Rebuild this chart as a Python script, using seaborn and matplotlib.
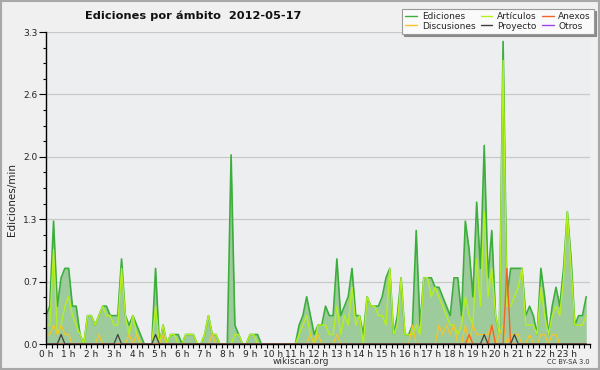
import numpy as np
import pandas as pd
import seaborn as sns
import matplotlib.pyplot as plt
from matplotlib.patches import Rectangle
from matplotlib.ticker import FixedLocator, MultipleLocator

# Ediciones por minuto, intervalos de 10 min (12 valores = 2 horas por fila)
ediciones = [
    0.3, 0.4, 1.3, 0.4, 0.7, 0.8, 0.8, 0.4, 0.4, 0.1, 0.0, 0.3,
    0.3, 0.2, 0.3, 0.4, 0.4, 0.3, 0.3, 0.3, 0.9, 0.3, 0.2, 0.3,
    0.2, 0.1, 0.0, 0.0, 0.0, 0.8, 0.0, 0.2, 0.0, 0.1, 0.1, 0.1,
    0.0, 0.1, 0.1, 0.1, 0.0, 0.0, 0.1, 0.3, 0.1, 0.1, 0.0, 0.0,
    0.0, 2.0, 0.2, 0.1, 0.0, 0.0, 0.1, 0.1, 0.1, 0.0, 0.0, 0.0,
    0.0, 0.0, 0.0, 0.0, 0.0, 0.0, 0.0, 0.2, 0.3, 0.5, 0.3, 0.1,
    0.2, 0.2, 0.4, 0.3, 0.3, 0.9, 0.3, 0.4, 0.5, 0.8, 0.3, 0.3,
    0.1, 0.5, 0.4, 0.4, 0.4, 0.5, 0.7, 0.8, 0.1, 0.3, 0.7, 0.1,
    0.1, 0.2, 1.2, 0.2, 0.7, 0.7, 0.7, 0.6, 0.6, 0.5, 0.4, 0.3,
    0.7, 0.7, 0.3, 1.3, 1.0, 0.5, 1.5, 0.8, 2.1, 0.7, 1.2, 0.3,
    0.1, 3.2, 0.5, 0.8, 0.8, 0.8, 0.8, 0.3, 0.4, 0.3, 0.1, 0.8,
    0.5, 0.1, 0.4, 0.6, 0.4, 0.8, 1.4, 0.9, 0.2, 0.3, 0.3, 0.5,
]
articulos = [
    0.2, 0.2, 1.0, 0.1, 0.2, 0.4, 0.5, 0.3, 0.2, 0.1, 0.0, 0.3,
    0.3, 0.2, 0.3, 0.4, 0.3, 0.3, 0.2, 0.2, 0.8, 0.3, 0.1, 0.3,
    0.1, 0.0, 0.0, 0.0, 0.0, 0.4, 0.0, 0.2, 0.0, 0.1, 0.1, 0.0,
    0.0, 0.1, 0.1, 0.1, 0.0, 0.0, 0.1, 0.3, 0.1, 0.1, 0.0, 0.0,
    0.0, 0.0, 0.1, 0.1, 0.0, 0.0, 0.1, 0.1, 0.0, 0.0, 0.0, 0.0,
    0.0, 0.0, 0.0, 0.0, 0.0, 0.0, 0.0, 0.1, 0.2, 0.3, 0.1, 0.0,
    0.2, 0.2, 0.2, 0.1, 0.1, 0.4, 0.1, 0.3, 0.2, 0.6, 0.2, 0.3,
    0.0, 0.5, 0.4, 0.4, 0.3, 0.3, 0.2, 0.8, 0.1, 0.2, 0.7, 0.1,
    0.1, 0.1, 0.2, 0.1, 0.7, 0.7, 0.5, 0.6, 0.5, 0.4, 0.3, 0.2,
    0.2, 0.1, 0.2, 0.5, 0.3, 0.2, 0.9, 0.4, 1.4, 0.5, 0.8, 0.3,
    0.1, 3.0, 0.4, 0.4, 0.5, 0.6, 0.8, 0.2, 0.2, 0.2, 0.1, 0.6,
    0.3, 0.1, 0.3, 0.4, 0.3, 0.7, 1.4, 0.8, 0.2, 0.2, 0.2, 0.3,
]
discusiones = [
    0.1, 0.1, 0.2, 0.1, 0.2, 0.1, 0.1, 0.0, 0.0, 0.0, 0.0, 0.0,
    0.0, 0.0, 0.1, 0.0, 0.0, 0.0, 0.0, 0.0, 0.0, 0.0, 0.1, 0.0,
    0.1, 0.0, 0.0, 0.0, 0.0, 0.0, 0.0, 0.1, 0.0, 0.0, 0.0, 0.0,
    0.0, 0.0, 0.0, 0.0, 0.0, 0.0, 0.0, 0.0, 0.1, 0.0, 0.0, 0.0,
    0.0, 0.0, 0.0, 0.0, 0.0, 0.0, 0.0, 0.0, 0.0, 0.0, 0.0, 0.0,
    0.0, 0.0, 0.0, 0.0, 0.0, 0.0, 0.0, 0.0, 0.0, 0.0, 0.1, 0.0,
    0.1, 0.0, 0.0, 0.0, 0.0, 0.1, 0.0, 0.0, 0.0, 0.0, 0.0, 0.0,
    0.0, 0.0, 0.0, 0.0, 0.0, 0.0, 0.0, 0.0, 0.0, 0.0, 0.0, 0.0,
    0.0, 0.2, 0.0, 0.0, 0.0, 0.0, 0.0, 0.0, 0.2, 0.1, 0.2, 0.1,
    0.2, 0.0, 0.0, 0.2, 0.0, 0.2, 0.1, 0.1, 0.1, 0.1, 0.2, 0.0,
    0.1, 0.2, 0.0, 0.1, 0.1, 0.1, 0.0, 0.0, 0.1, 0.0, 0.0, 0.1,
    0.1, 0.0, 0.1, 0.1, 0.0, 0.0, 0.0, 0.0, 0.0, 0.0, 0.0, 0.0,
]
anexos = [
    0.0, 0.0, 0.0, 0.0, 0.0, 0.0, 0.0, 0.0, 0.0, 0.0, 0.0, 0.0,
    0.0, 0.0, 0.0, 0.0, 0.0, 0.0, 0.0, 0.0, 0.0, 0.0, 0.0, 0.0,
    0.0, 0.0, 0.0, 0.0, 0.0, 0.0, 0.0, 0.0, 0.0, 0.0, 0.0, 0.0,
    0.0, 0.0, 0.0, 0.0, 0.0, 0.0, 0.0, 0.0, 0.0, 0.0, 0.0, 0.0,
    0.0, 0.0, 0.0, 0.0, 0.0, 0.0, 0.0, 0.0, 0.0, 0.0, 0.0, 0.0,
    0.0, 0.0, 0.0, 0.0, 0.0, 0.0, 0.0, 0.0, 0.0, 0.0, 0.0, 0.0,
    0.0, 0.0, 0.0, 0.0, 0.0, 0.0, 0.0, 0.0, 0.0, 0.0, 0.0, 0.0,
    0.0, 0.0, 0.0, 0.0, 0.0, 0.0, 0.0, 0.0, 0.0, 0.0, 0.0, 0.0,
    0.0, 0.0, 0.0, 0.0, 0.0, 0.0, 0.0, 0.0, 0.0, 0.0, 0.0, 0.0,
    0.0, 0.0, 0.0, 0.0, 0.1, 0.0, 0.0, 0.0, 0.0, 0.0, 0.2, 0.0,
    0.0, 0.0, 0.8, 0.0, 0.0, 0.0, 0.0, 0.0, 0.0, 0.0, 0.0, 0.0,
    0.0, 0.0, 0.0, 0.0, 0.0, 0.0, 0.0, 0.0, 0.0, 0.0, 0.0, 0.0,
]
proyecto = [
    0.0, 0.0, 0.0, 0.0, 0.1, 0.0, 0.0, 0.0, 0.0, 0.0, 0.0, 0.0,
    0.0, 0.0, 0.0, 0.0, 0.0, 0.0, 0.0, 0.1, 0.0, 0.0, 0.0, 0.0,
    0.0, 0.0, 0.0, 0.0, 0.0, 0.1, 0.0, 0.0, 0.0, 0.0, 0.0, 0.0,
    0.0, 0.0, 0.0, 0.0, 0.0, 0.0, 0.0, 0.0, 0.0, 0.0, 0.0, 0.0,
    0.0, 0.0, 0.0, 0.0, 0.0, 0.0, 0.0, 0.0, 0.0, 0.0, 0.0, 0.0,
    0.0, 0.0, 0.0, 0.0, 0.0, 0.0, 0.0, 0.0, 0.0, 0.0, 0.0, 0.0,
    0.0, 0.0, 0.0, 0.0, 0.0, 0.0, 0.0, 0.0, 0.0, 0.0, 0.0, 0.0,
    0.0, 0.0, 0.0, 0.0, 0.0, 0.0, 0.0, 0.0, 0.0, 0.0, 0.0, 0.0,
    0.0, 0.0, 0.0, 0.0, 0.0, 0.0, 0.0, 0.0, 0.0, 0.0, 0.0, 0.0,
    0.0, 0.0, 0.0, 0.0, 0.0, 0.0, 0.0, 0.0, 0.1, 0.0, 0.0, 0.0,
    0.0, 0.0, 0.0, 0.0, 0.1, 0.0, 0.0, 0.0, 0.0, 0.0, 0.0, 0.0,
    0.0, 0.0, 0.0, 0.0, 0.0, 0.0, 0.0, 0.0, 0.0, 0.0, 0.0, 0.0,
]
otros = [
    0.0, 0.0, 0.0, 0.0, 0.0, 0.0, 0.0, 0.0, 0.0, 0.0, 0.0, 0.0,
    0.0, 0.0, 0.0, 0.0, 0.0, 0.0, 0.0, 0.0, 0.0, 0.0, 0.0, 0.0,
    0.0, 0.0, 0.0, 0.0, 0.0, 0.0, 0.0, 0.0, 0.0, 0.0, 0.0, 0.0,
    0.0, 0.0, 0.0, 0.0, 0.0, 0.0, 0.0, 0.0, 0.0, 0.0, 0.0, 0.0,
    0.0, 0.0, 0.0, 0.0, 0.0, 0.0, 0.0, 0.0, 0.0, 0.0, 0.0, 0.0,
    0.0, 0.0, 0.0, 0.0, 0.0, 0.0, 0.0, 0.0, 0.0, 0.0, 0.0, 0.0,
    0.0, 0.0, 0.0, 0.0, 0.0, 0.0, 0.0, 0.0, 0.0, 0.0, 0.0, 0.0,
    0.0, 0.0, 0.0, 0.0, 0.0, 0.0, 0.0, 0.0, 0.0, 0.0, 0.0, 0.0,
    0.0, 0.0, 0.0, 0.0, 0.0, 0.0, 0.0, 0.0, 0.0, 0.0, 0.0, 0.0,
    0.0, 0.0, 0.0, 0.0, 0.0, 0.0, 0.0, 0.0, 0.0, 0.0, 0.0, 0.0,
    0.0, 0.0, 0.0, 0.0, 0.0, 0.0, 0.0, 0.0, 0.0, 0.0, 0.0, 0.0,
    0.0, 0.0, 0.0, 0.0, 0.0, 0.0, 0.0, 0.0, 0.0, 0.0, 0.0, 0.0,
]

# Escala y etiquetas
y_ticks = [0.0, 0.66, 1.32, 1.98, 2.64, 3.3]
y_labels = ["0.0", "0.7", "1.3", "2.0", "2.6", "3.3"]
x_labels = [f"{h} h" for h in range(24)]

horas = np.arange(len(ediciones)) / 6.0
df = pd.DataFrame({
    "hora": horas,
    "Ediciones": ediciones,
    "Artículos": articulos,
    "Anexos": anexos,
    "Discusiones": discusiones,
    "Proyecto": proyecto,
    "Otros": otros,
})

colores = {
    "Ediciones": "#3cae3c",
    "Artículos": "#b4f01e",
    "Anexos": "#f0642a",
    "Discusiones": "#f5c526",
    "Proyecto": "#404040",
    "Otros": "#9b45ee",
}

sns.set_style("white", {"axes.facecolor": "#edeef0", "figure.facecolor": "#f0f0f0"})
plt.rcParams["font.family"] = ["DejaVu Sans"]

fig, ax = plt.subplots(figsize=(6, 3.7), dpi=100)
fig.subplots_adjust(left=46/600, right=590/600, bottom=1-344/370, top=1-32/370)

# Area of total edits
ax.fill_between(df["hora"], 0, df["Ediciones"], color="#9ecb9b", linewidth=0, zorder=1)

for col, lw in [("Ediciones", 1.2), ("Artículos", 1.0), ("Discusiones", 0.9),
                ("Anexos", 1.0), ("Proyecto", 0.9), ("Otros", 0.9)]:
    sns.lineplot(data=df, x="hora", y=col, ax=ax, color=colores[col],
                 linewidth=lw, label=col, legend=False, zorder=3)

ax.set_xlim(0, 24)
ax.set_ylim(0, 3.3)

ax.yaxis.set_major_locator(FixedLocator(y_ticks))
ax.set_yticklabels(y_labels)
ax.yaxis.set_minor_locator(MultipleLocator(0.165))
ax.xaxis.set_major_locator(FixedLocator(range(24)))
ax.set_xticklabels(x_labels)
ax.xaxis.set_minor_locator(MultipleLocator(0.25))

ax.grid(axis="y", which="major", color="#c9c9c9", linewidth=0.9)
ax.set_axisbelow(True)
for s in ["top", "right"]:
    ax.spines[s].set_visible(False)
for s in ["left", "bottom"]:
    ax.spines[s].set_color("black")
    ax.spines[s].set_linewidth(1.0)
    ax.spines[s].set_zorder(5)

ax.tick_params(axis="both", which="both", left=True, bottom=True)
ax.tick_params(axis="y", which="major", length=5, width=0.8, direction="out",
               labelsize=6.5, pad=1, colors="black", labelcolor="#222222")
ax.tick_params(axis="y", which="minor", length=2.5, width=0.8, direction="out",
               colors="black")
ax.tick_params(axis="x", which="both", length=3, width=0.8, direction="out",
               labelsize=6.5, pad=1, colors="black", labelcolor="#222222")

ax.set_xlabel("")
ax.set_ylabel("")
fig.text(12/600, 1-200/370, "Ediciones/min", rotation=90, fontsize=7.5,
         ha="center", va="center", color="#222222")

fig.text(85/600, 1-16/370, "Ediciones por ámbito  2012-05-17", fontsize=8.2,
         fontweight="bold", ha="left", va="center", color="#111111")

fig.text(301/600, 1-362/370, "wikiscan.org", fontsize=6.5, ha="center",
         va="center", color="#333333")
fig.text(590/600, 1-362/370, "CC BY-SA 3.0", fontsize=4.8, ha="right",
         va="center", color="#333333")

# Legend, column-wise order
handles, labels = ax.get_legend_handles_labels()
orden = ["Ediciones", "Discusiones", "Artículos", "Proyecto", "Anexos", "Otros"]
hmap = dict(zip(labels, handles))
leg = fig.legend([hmap[k] for k in orden], orden, ncol=3, loc="upper right",
                 bbox_to_anchor=(594/600, 1-9/370), fontsize=6.5, frameon=True,
                 fancybox=False, shadow={"ox": 1.5, "oy": -1.5, "color": "#8a8a8a", "alpha": 1.0},
                 handlelength=1.3, handletextpad=0.5,
                 columnspacing=0.6, labelspacing=0.05, borderpad=0.35,
                 borderaxespad=0)
leg.get_frame().set_facecolor("#fafafa")
leg.get_frame().set_edgecolor("#9a9a9a")
leg.get_frame().set_linewidth(0.8)
for line in leg.get_lines():
    line.set_linewidth(1.0)

# Outer frame of the image
fig.patches.append(Rectangle((0.001, 0.002), 0.997, 0.996, transform=fig.transFigure,
                             fill=False, edgecolor="#a8a8a8", linewidth=1.5))

fig.savefig("out.png", dpi=100, facecolor=fig.get_facecolor())
